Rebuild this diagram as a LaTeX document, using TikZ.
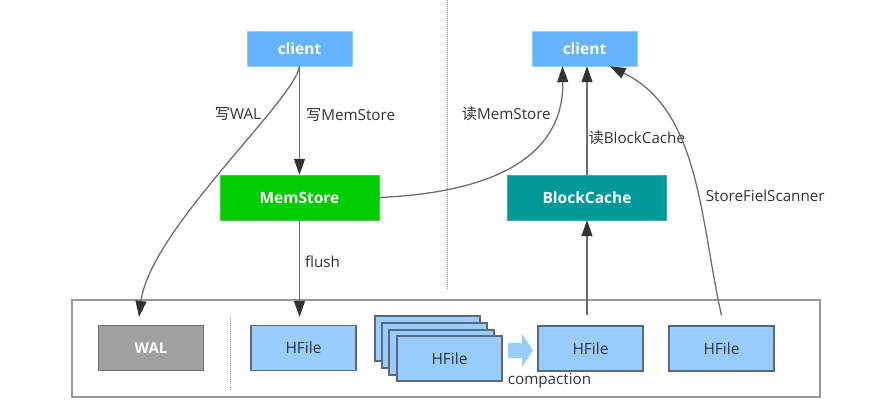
\documentclass[tikz,border=0pt]{standalone}
\usepackage{fontspec}
\setmainfont{Open Sans}
\newfontfamily\cjk{Noto Sans CJK SC}
\usepackage{xcolor}
\definecolor{clientblue}{RGB}{102,179,255}
\definecolor{memgreen}{RGB}{0,204,0}
\definecolor{cacheteal}{RGB}{0,153,153}
\definecolor{walgray}{RGB}{160,160,160}
\definecolor{hfileblue}{RGB}{153,204,255}
\definecolor{hfileedge}{RGB}{90,106,122}
\definecolor{lineg}{RGB}{110,110,110}
\definecolor{textg}{RGB}{51,51,51}
\usepackage{tikz}
\usetikzlibrary{arrows.meta}
\newcommand{\zh}[1]{{\cjk #1}}
\newcommand{\widthfile}{105pt}
\newcommand{\heightfile}{45pt}
\tikzset{
    common/.style={anchor=center, draw, rectangle, inner sep=0pt},
    client/.style={common, fill=clientblue, draw=clientblue!70!white, text=white,
        font=\fontsize{15.5}{18}\selectfont\bfseries, minimum width=105pt, minimum height=35pt},
    server/.style={common, text=white, font=\fontsize{15.5}{18}\selectfont\bfseries,
        minimum width=159pt, minimum height=45pt},
    hfile/.style={common, fill=hfileblue, draw=hfileedge, line width=1.2pt, text=textg,
        font=\fontsize{15.5}{18}\selectfont, minimum width=\widthfile, minimum height=\heightfile},
    wal/.style={hfile, fill=walgray, draw=lineg, text=white, font=\fontsize{15}{18}\selectfont\bfseries},
    flow/.style={draw=lineg, line width=1.3pt, -{Triangle[length=16pt, width=11pt, color=textg]}},
    lbl/.style={text=textg, font=\fontsize{15.2}{18}\selectfont, inner sep=1pt},
    sep/.style={draw=gray!80, densely dotted, line width=1pt}
}

\begin{document}
\begin{tikzpicture}[x=1pt, y=-1pt]
    \useasboundingbox (0,0) rectangle (891,412);

    % write side and read side
    \draw[sep] (447,0) -- (447,290);
    \draw[draw=gray!80, line width=1.3pt] (72,300) rectangle (820,397);
    \draw[sep] (230,317) -- (230,390);

    \path
        node[client] (client-W) at (299.5,48.5) {client}
        node[server, fill=memgreen, draw=memgreen!80!white] (memstore) at (299.5,197.5) {MemStore}
        node[client] (client-R) at (584.5,48.5) {client}
        node[server, fill=cacheteal, draw=cacheteal!80!white] (blockcache) at (587,197.5) {BlockCache};

    \path
        node[wal] (wal) at (151,348) {WAL}
        node[hfile] (hfile-flush) at (303.5,348) {HFile}
        node[hfile] (hfile-new) at (590.5,348.5) {HFile}
        node[hfile] (hfile-scan) at (721.5,348.5) {HFile};

    % files waiting for compaction
    \foreach \i/\x/\y in {1/427.5/338.5, 2/434.5/345.5, 3/441.5/352.5}
        \node[hfile] (hfile-old\i) at (\x,\y) {};
    \node[hfile] (hfile-old4) at (449.5,358.5) {HFile};

    \fill[hfileblue] (508,343) -- (522,343) -- (522,334) -- (533,350.5)
        -- (522,367) -- (522,358) -- (508,358) -- cycle;
    \node[lbl] (compaction) at (549.5,381) {compaction};

    \draw[flow] (client-W) -- node[lbl, pos=0.45, right=5pt]{\zh{写}MemStore} (memstore);
    \draw[flow] (client-W.south) .. controls (295,100) and (150,230) ..
        node[lbl, pos=0.28, left=6pt]{\zh{写}WAL} ([xshift=-12pt, yshift=8pt]wal.north);
    \draw[flow, shorten >=8pt] (memstore.south) -- node[lbl, pos=0.40, right=4pt]{flush} (memstore.south |- hfile-flush.north);

    \draw[flow] (memstore.east) .. controls (505,192) and (564,150) ..
        node[lbl, pos=0.79, left=3pt]{\zh{读}MemStore} ([xshift=-22pt]client-R.south);
    \draw[flow] (blockcache.north) -- node[lbl, pos=0.34, right=0pt]{\zh{读}BlockCache} (blockcache.north |- client-R.south);
    \draw[flow, shorten <=10pt] (blockcache.south |- hfile-new.north) -- (blockcache.south);
    \draw[flow] ([yshift=10pt]hfile-scan.north) .. controls (700,220) and (700,110) ..
        node[lbl, pos=0.41, right=6pt]{StoreFielScanner} ([xshift=25pt]client-R.south);

\end{tikzpicture}
\end{document}
